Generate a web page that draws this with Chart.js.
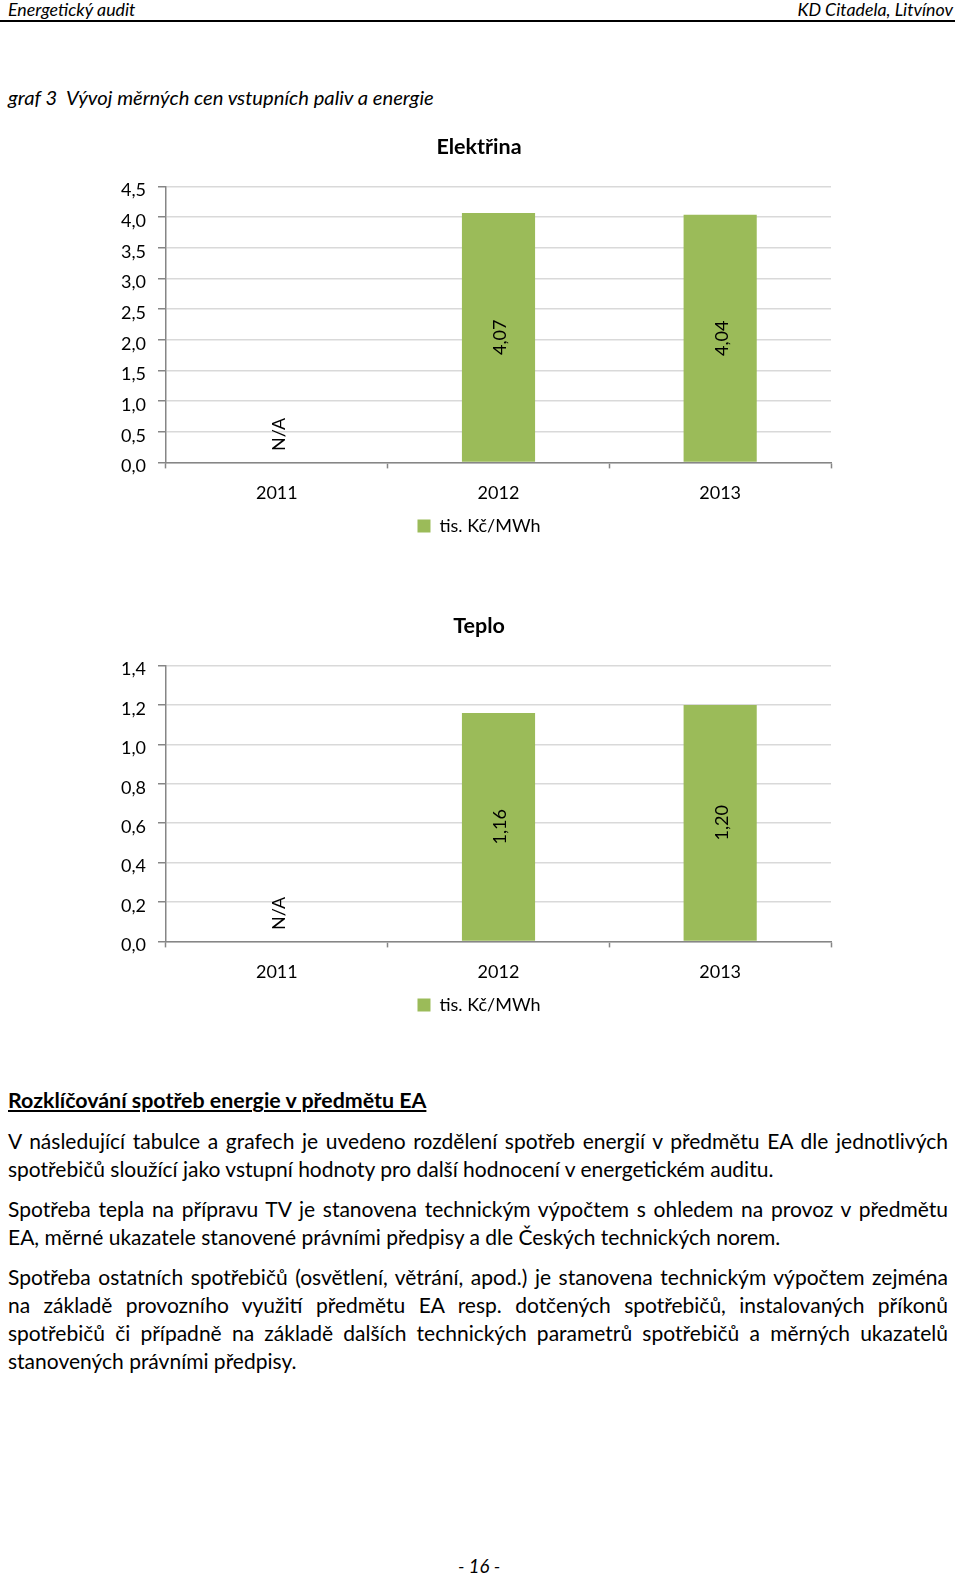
<!DOCTYPE html>
<html lang="cs">
<head>
<meta charset="utf-8">
<script src="https://cdn.jsdelivr.net/npm/chart.js@4/dist/chart.umd.min.js"></script>
<style>
  html, body { margin: 0; padding: 0; background: #fff; }
  body { width: 960px; height: 1576px; position: relative; overflow: hidden; font-family: Lato, "Noto Sans", sans-serif; color: #000; }
  .abs { position: absolute; white-space: nowrap; }
  .hdr { font-style: italic; font-size: 17.8px; line-height: 20px; }
  .rule { position: absolute; left: 0; width: 955px; top: 20px; height: 2px; background: #000; }
  .cap { font-style: italic; font-size: 20.2px; line-height: 24px; }
  .head { font-weight: bold; font-size: 21.4px; line-height: 28px; text-decoration: underline; }
  .ln { position: absolute; left: 8px; width: 940px; white-space: nowrap; line-height: 28px; font-size: 21px; }
  .full { text-align: justify; text-align-last: justify; }
  .chartbox { position: absolute; left: 0; width: 960px; line-height: 0; }
  .chartbox canvas { display: block; }
  .pg { font-style: italic; font-size: 18.5px; line-height: 22px; }
</style>
</head>
<body>
<div class="abs hdr" style="left:8px; top:-1px;">Energetický audit</div>
<div class="abs hdr" style="right:7px; top:-1px;">KD Citadela, Litvínov</div>
<div class="rule"></div>
<div class="abs cap" style="left:8px; top:85px;">graf 3&nbsp; Vývoj měrných cen vstupních paliv a energie</div>

<div class="chartbox" id="box1" style="top:120px;"><canvas id="c1" width="960" height="428"></canvas></div>
<div class="chartbox" id="box2" style="top:597px;"><canvas id="c2" width="960" height="428"></canvas></div>

<div class="abs head" style="left:8px; top:1086px;">Rozklíčování spotřeb energie v předmětu EA</div>
<div class="ln full" style="top:1127px;">V následující tabulce a grafech je uvedeno rozdělení spotřeb energií v předmětu EA dle jednotlivých</div>
<div class="ln" style="top:1155px;">spotřebičů sloužící jako vstupní hodnoty pro další hodnocení v energetickém auditu.</div>
<div class="ln full" style="top:1195px;">Spotřeba tepla na přípravu TV je stanovena technickým výpočtem s ohledem na provoz v předmětu</div>
<div class="ln" style="top:1223px;">EA, měrné ukazatele stanovené právními předpisy a dle Českých technických norem.</div>
<div class="ln full" style="top:1263px;">Spotřeba ostatních spotřebičů (osvětlení, větrání, apod.) je stanovena technickým výpočtem zejména</div>
<div class="ln full" style="top:1291px;">na základě provozního využití předmětu EA resp. dotčených spotřebičů, instalovaných příkonů</div>
<div class="ln full" style="top:1319px;">spotřebičů či případně na základě dalších technických parametrů spotřebičů a měrných ukazatelů</div>
<div class="ln" style="top:1347px;">stanovených právními předpisy.</div>

<div class="abs pg" style="left:0; width:958px; text-align:center; top:1555px;">- 16 -</div>

<script>
// ---- data ----
const categories = ['2011', '2012', '2013'];
const elektrinaValues = [null, 4.07, 4.04];
const teploValues = [null, 1.16, 1.20];
const seriesLabel = 'tis. Kč/MWh';
const chartTitles = ['Elektřina', 'Teplo'];
const yMaxValues = [4.5, 1.4];
const yStepValues = [0.5, 0.2];
const naText = 'N/A';

// ---- fit body text to the text column ----
(function fitText() {
  const lines = Array.from(document.querySelectorAll('.ln'));
  const base = parseFloat(getComputedStyle(lines[0]).fontSize);
  let maxW = 0;
  lines.forEach(l => {
    const s = document.createElement('span');
    s.textContent = l.textContent;
    s.style.font = getComputedStyle(l).font;
    s.style.whiteSpace = 'nowrap';
    s.style.position = 'absolute';
    s.style.visibility = 'hidden';
    document.body.appendChild(s);
    maxW = Math.max(maxW, s.getBoundingClientRect().width);
    s.remove();
  });
  if (maxW > 936) {
    const fs = base * 936 / maxW;
    lines.forEach(l => l.style.fontSize = fs + 'px');
  }
})();

const FONT = 'Lato, "Noto Sans", sans-serif';
const GREEN = '#9bbb59';
const AXIS = '#868686';
const GRID = '#d9d9d9';

const barLabels = {
  id: 'barLabels',
  afterDatasetsDraw(chart) {
    const ctx = chart.ctx;
    const ds = chart.data.datasets[0];
    const meta = chart.getDatasetMeta(0);
    const xs = chart.scales.x, ys = chart.scales.y;
    ds.data.forEach((v, i) => {
      let text, cy;
      const cx = xs.getPixelForValue(i) + 2;
      if (v === null || v === undefined) {
        text = naText;
        cy = ys.getPixelForValue(0) - 28;
      } else {
        const bar = meta.data[i];
        text = v.toFixed(2).replace('.', ',');
        cy = (bar.y + bar.base) / 2;
      }
      ctx.save();
      ctx.translate(cx, cy);
      ctx.rotate(-Math.PI / 2);
      ctx.textAlign = 'center';
      ctx.textBaseline = 'middle';
      ctx.font = '18px ' + FONT;
      ctx.fillStyle = '#000';
      ctx.fillText(text, 0, 0);
      ctx.restore();
    });
  }
};

function config(title, values, yMax, yStep) {
  return {
    type: 'bar',
    data: {
      labels: categories,
      datasets: [{
        label: seriesLabel,
        data: values,
        backgroundColor: GREEN,
        borderWidth: 0,
        categoryPercentage: 1,
        barPercentage: 0.33
      }]
    },
    options: {
      responsive: false,
      animation: false,
      devicePixelRatio: 1,
      layout: { padding: { left: 0, right: 2, top: 0, bottom: 0 } },
      plugins: {
        title: {
          display: true, text: title,
          font: { family: FONT, size: 21.5, weight: 'bold' },
          color: '#000',
          padding: { top: 14.4, bottom: 26.4 }
        },
        legend: {
          display: true, position: 'bottom',
          labels: {
            boxWidth: 13, boxHeight: 13, padding: 4,
            font: { family: FONT, size: 18 }, color: '#000'
          }
        },
        tooltip: { enabled: false }
      },
      scales: {
        x: {
          offset: true,
          afterFit(s) { s.height = s.height - 5; },
          grid: { display: true, drawOnChartArea: false, offset: true, tickLength: 6, tickColor: AXIS, tickWidth: 1.5 },
          border: { display: true, color: AXIS, width: 1.5 },
          ticks: { padding: 14, font: { family: FONT, size: 18 }, color: '#000' }
        },
        y: {
          min: 0, max: yMax,
          afterFit(s) { s.width = 166; },
          grid: { color: GRID, lineWidth: 1.5, tickLength: 8, tickColor: AXIS, tickWidth: 1.5 },
          border: { display: true, color: AXIS, width: 1.5 },
          ticks: {
            stepSize: yStep, padding: 12,
            font: { family: FONT, size: 18, lineHeight: 0.45 }, color: '#000',
            // empty first line nudges the label slightly below its grid line, as in the reference
            callback: v => ['', v.toFixed(1).replace('.', ',')]
          }
        },
        // empty right-hand margin of the chart (keeps title/legend centred on the whole chart)
        yRight: {
          type: 'linear', position: 'right', display: true,
          afterFit(s) { s.width = 127; },
          grid: { display: false }, border: { display: false }, ticks: { display: false }
        }
      }
    },
    plugins: [barLabels]
  };
}

function makeChart(canvasId, boxId, title, values, yMax, yStep, areaTop, areaBottom) {
  const canvas = document.getElementById(canvasId);
  let chart = new Chart(canvas, config(title, values, yMax, yStep));
  const ca = chart.chartArea;
  const dh = (areaBottom - areaTop) - (ca.bottom - ca.top);
  if (Math.abs(dh) > 0.5) {
    const h = Math.round(canvas.height + dh);
    chart.destroy();
    canvas.width = 960;
    canvas.height = h;
    canvas.style.width = '960px';
    canvas.style.height = h + 'px';
    chart = new Chart(canvas, config(title, values, yMax, yStep));
  }
  document.getElementById(boxId).style.top = (areaTop - chart.chartArea.top) + 'px';
  return chart;
}

makeChart('c1', 'box1', chartTitles[0], elektrinaValues, yMaxValues[0], yStepValues[0], 187, 463);
makeChart('c2', 'box2', chartTitles[1], teploValues, yMaxValues[1], yStepValues[1], 666, 942);
</script>
</body>
</html>
